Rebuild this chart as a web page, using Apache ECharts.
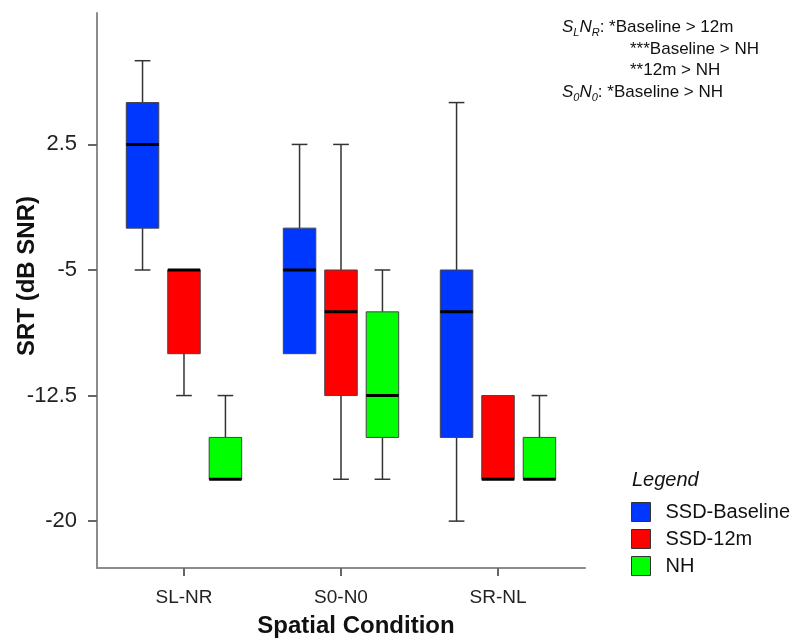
<!DOCTYPE html>
<html>
<head>
<meta charset="utf-8">
<script src="https://cdn.jsdelivr.net/npm/echarts@6/dist/echarts.min.js"></script>
<style>html,body{margin:0;padding:0;background:#fff}#chart{width:797px;height:638px}</style>
</head>
<body>
<div id="chart"></div>
<script>
var categories = ['SL-NR', 'S0-N0', 'SR-NL'];
var yTicks = [-20, -12.5, -5, 2.5];
var groupNames = ['SSD-Baseline', 'SSD-12m', 'NH'];
// each box: [min, Q1, median, Q3, max]
var baseline = [[-5, -2.5, 2.5, 5, 7.5], [-10, -10, -5, -2.5, 2.5], [-20, -15, -7.5, -5, 5]];
var twelveM = [[-12.5, -10, -5, -5, -5], [-17.5, -12.5, -7.5, -5, 2.5], [-17.5, -17.5, -17.5, -12.5, -12.5]];
var nh = [[-17.5, -17.5, -17.5, -15, -12.5], [-17.5, -15, -12.5, -7.5, -5], [-17.5, -17.5, -17.5, -15, -12.5]];

var colors = ['#0037ff', '#ff0000', '#00ff00'];
var offsets = [-0.264, 0, 0.264];
var boxW = 0.207, capW = 0.1;
var font = "'Liberation Sans', Arial, sans-serif";

function boxItem(offset) {
  return function (params, api) {
    var x = api.value(0) + offset;
    var lo = api.value(1), q1 = api.value(2), med = api.value(3), q3 = api.value(4), hi = api.value(5);
    var half = api.size([boxW, 0])[0] / 2;
    var capHalf = api.size([capW, 0])[0] / 2;
    var pLo = api.coord([x, lo]), pQ1 = api.coord([x, q1]), pMed = api.coord([x, med]);
    var pQ3 = api.coord([x, q3]), pHi = api.coord([x, hi]);
    var cx = pLo[0];
    var ws = { stroke: '#333', lineWidth: 1.5 };
    var kids = [];
    if (hi > q3) {
      kids.push({ type: 'line', shape: { x1: cx, y1: pHi[1], x2: cx, y2: pQ3[1] }, style: ws });
      kids.push({ type: 'line', shape: { x1: cx - capHalf, y1: pHi[1], x2: cx + capHalf, y2: pHi[1] }, style: ws });
    }
    if (lo < q1) {
      kids.push({ type: 'line', shape: { x1: cx, y1: pLo[1], x2: cx, y2: pQ1[1] }, style: ws });
      kids.push({ type: 'line', shape: { x1: cx - capHalf, y1: pLo[1], x2: cx + capHalf, y2: pLo[1] }, style: ws });
    }
    kids.push({
      type: 'rect',
      shape: { x: cx - half, y: pQ3[1], width: half * 2, height: pQ1[1] - pQ3[1] },
      style: { fill: api.visual('color'), stroke: '#444', lineWidth: 1 }
    });
    kids.push({ type: 'line', shape: { x1: cx - half, y1: pMed[1], x2: cx + half, y2: pMed[1] }, style: { stroke: '#000', lineWidth: 3 } });
    return { type: 'group', children: kids };
  };
}

var groups = [baseline, twelveM, nh];
var series = groups.map(function (g, k) {
  return {
    name: groupNames[k],
    type: 'custom',
    renderItem: boxItem(offsets[k]),
    itemStyle: { color: colors[k], borderColor: '#333', borderWidth: 1 },
    encode: { x: 0, y: [1, 2, 3, 4, 5] },
    data: g.map(function (d, i) { return [i + 1].concat(d); })
  };
});

var chart = echarts.init(document.getElementById('chart'));
chart.setOption({
  animation: false,
  textStyle: { fontFamily: font },
  grid: { left: 97, right: 212, top: 13, bottom: 70 },
  xAxis: {
    type: 'value',
    min: 0.446,
    max: 3.554,
    axisLine: { show: true, onZero: false, lineStyle: { color: '#8c8c8c', width: 2 } },
    axisTick: { show: true, length: 8, customValues: [1, 2, 3], lineStyle: { color: '#666', width: 2 } },
    axisLabel: {
      customValues: [1, 2, 3],
      margin: 20,
      fontSize: 19,
      color: '#222',
      formatter: function (v) { return categories[Math.round(v) - 1]; }
    },
    splitLine: { show: false }
  },
  yAxis: {
    type: 'value',
    min: -22.8,
    max: 10.35,
    axisLine: { show: true, onZero: false, lineStyle: { color: '#8c8c8c', width: 2 } },
    axisTick: { show: true, length: 9, customValues: yTicks, lineStyle: { color: '#666', width: 2 } },
    axisLabel: { customValues: yTicks, margin: 20, fontSize: 22, color: '#222' },
    splitLine: { show: false }
  },
  legend: {
    orient: 'vertical',
    left: 631,
    top: 502,
    padding: 0,
    itemWidth: 19,
    itemHeight: 19,
    itemGap: 7,
    icon: 'rect',
    itemStyle: { borderColor: '#333', borderWidth: 1 },
    textStyle: { fontSize: 20, color: '#111', padding: [0, 0, 0, 10] },
    data: groupNames
  },
  graphic: [
    { type: 'text', x: 27, y: 276, rotation: Math.PI / 2,
      style: { text: 'SRT (dB SNR)', fontSize: 24, fontWeight: 'bold', fontFamily: font, fill: '#111', align: 'center', verticalAlign: 'middle' } },
    { type: 'text', x: 356, y: 626,
      style: { text: 'Spatial Condition', fontSize: 24, fontWeight: 'bold', fontFamily: font, fill: '#111', align: 'center', verticalAlign: 'middle' } },
    { type: 'text', x: 632, y: 480,
      style: { text: 'Legend', fontSize: 20, fontStyle: 'italic', fontFamily: font, fill: '#111', verticalAlign: 'middle' } },
    { type: 'text', x: 562, y: 27,
      style: {
        text: '{i|S}{s|L}{i|N}{s|R}{n|: *Baseline > 12m}', fontFamily: font, fill: '#111', verticalAlign: 'middle',
        rich: {
          i: { fontSize: 17, fontStyle: 'italic', fontFamily: font, lineHeight: 22, verticalAlign: 'middle' },
          s: { fontSize: 11, fontStyle: 'italic', fontFamily: font, lineHeight: 22, verticalAlign: 'bottom' },
          n: { fontSize: 17, fontFamily: font, lineHeight: 22, verticalAlign: 'middle' }
        }
      } },
    { type: 'text', x: 630, y: 49,
      style: { text: '***Baseline > NH', fontSize: 17, fontFamily: font, fill: '#111', verticalAlign: 'middle' } },
    { type: 'text', x: 630, y: 70,
      style: { text: '**12m > NH', fontSize: 17, fontFamily: font, fill: '#111', verticalAlign: 'middle' } },
    { type: 'text', x: 562, y: 92,
      style: {
        text: '{i|S}{s|0}{i|N}{s|0}{n|: *Baseline > NH}', fontFamily: font, fill: '#111', verticalAlign: 'middle',
        rich: {
          i: { fontSize: 17, fontStyle: 'italic', fontFamily: font, lineHeight: 22, verticalAlign: 'middle' },
          s: { fontSize: 11, fontStyle: 'italic', fontFamily: font, lineHeight: 22, verticalAlign: 'bottom' },
          n: { fontSize: 17, fontFamily: font, lineHeight: 22, verticalAlign: 'middle' }
        }
      } }
  ],
  series: series
});
</script>
</body>
</html>
